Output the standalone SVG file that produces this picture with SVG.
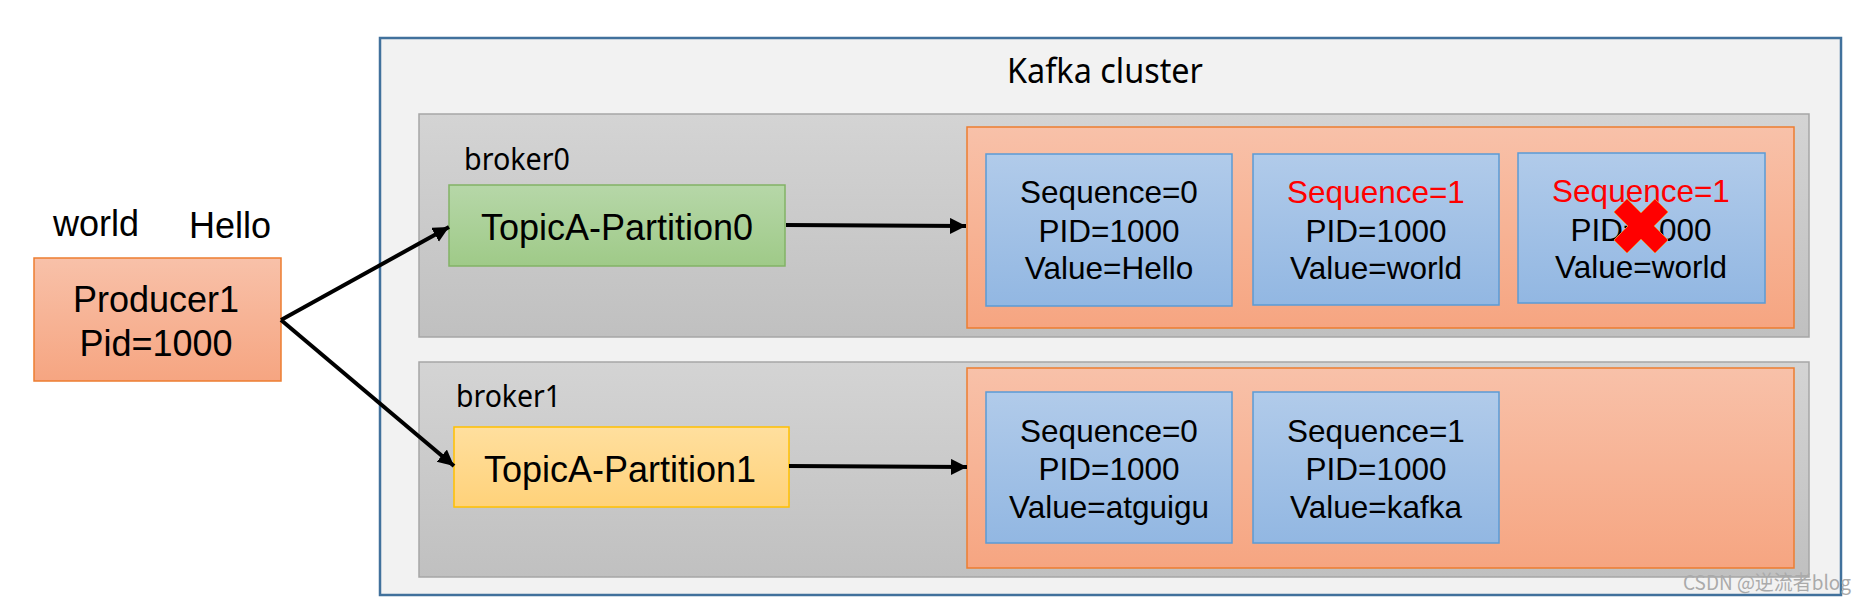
<svg xmlns="http://www.w3.org/2000/svg" width="1866" height="602" viewBox="0 0 1866 602">
<defs>
<linearGradient id="gOrange" x1="0" y1="0" x2="0" y2="1"><stop offset="0" stop-color="#f8c1a9"/><stop offset="1" stop-color="#f6a581"/></linearGradient>
<linearGradient id="gBlue" x1="0" y1="0" x2="0" y2="1"><stop offset="0" stop-color="#b1cbea"/><stop offset="1" stop-color="#92b7e2"/></linearGradient>
<linearGradient id="gGray" x1="0" y1="0" x2="0" y2="1"><stop offset="0" stop-color="#d4d4d4"/><stop offset="1" stop-color="#c0c0c0"/></linearGradient>
<linearGradient id="gGreen" x1="0" y1="0" x2="0" y2="1"><stop offset="0" stop-color="#b6d7a8"/><stop offset="1" stop-color="#9fca88"/></linearGradient>
<linearGradient id="gYellow" x1="0" y1="0" x2="0" y2="1"><stop offset="0" stop-color="#ffdf9e"/><stop offset="1" stop-color="#ffd27a"/></linearGradient>
<marker id="arr" markerUnits="userSpaceOnUse" markerWidth="17" markerHeight="17" refX="16" refY="8" orient="auto"><path d="M0,0 L16,8 L0,16 Z" fill="#000"/></marker>
<style>
.ar{font-family:"Liberation Sans",Arial,sans-serif;fill:#000}
.ya{font-family:"Noto Sans","DejaVu Sans",sans-serif;fill:#000}
.seq{font-family:"Liberation Sans",Arial,sans-serif;font-size:31.5px;text-anchor:middle;fill:#000}
.red{fill:#ff0000}
.blue{fill:url(#gBlue);stroke:#5b9bd5;stroke-width:1.5}
.orange{fill:url(#gOrange);stroke:#ed7d31;stroke-width:1.5}
.broker{fill:url(#gGray);stroke:#a6a6a6;stroke-width:1.5}
.conn{stroke:#000;stroke-width:4;fill:none;marker-end:url(#arr)}
</style>
</defs>
<rect width="1866" height="602" fill="#ffffff"/>

<g id="cluster">
<rect x="380" y="38" width="1461" height="557" fill="#f2f2f2" stroke="#41719c" stroke-width="2.5"/>
<text class="ya" x="1007" y="83" font-size="35" textLength="196" lengthAdjust="spacingAndGlyphs">Kafka cluster</text>
</g>

<g id="broker0">
<rect class="broker" x="419" y="114" width="1390" height="223"/>
<text class="ya" x="464" y="170" font-size="30" textLength="106" lengthAdjust="spacingAndGlyphs">broker0</text>
</g>

<g id="broker1">
<rect class="broker" x="419" y="362" width="1390" height="215"/>
<text class="ya" x="456" y="407" font-size="30" textLength="105" lengthAdjust="spacingAndGlyphs">broker1</text>
</g>

<g id="producer1">
<text class="ar" x="53" y="236" font-size="36">world</text>
<text class="ar" x="189" y="238" font-size="36">Hello</text>
<rect class="orange" x="34" y="258" width="247" height="123"/>
<text class="ar" x="156" y="312" font-size="36" text-anchor="middle">Producer1</text>
<text class="ar" x="156" y="356" font-size="36" text-anchor="middle">Pid=1000</text>
</g>

<g id="partition0">
<rect x="449" y="185" width="336" height="81" fill="url(#gGreen)" stroke="#82b366" stroke-width="1.5"/>
<text class="ar" x="617" y="240" font-size="36" text-anchor="middle">TopicA-Partition0</text>
</g>

<g id="partition1">
<rect x="454" y="427" width="335" height="80" fill="url(#gYellow)" stroke="#ffc000" stroke-width="1.5"/>
<text class="ar" x="620" y="482" font-size="36" text-anchor="middle">TopicA-Partition1</text>
</g>

<g id="log0">
<rect class="orange" x="967" y="127" width="827" height="201"/>
</g>

<g id="log1">
<rect class="orange" x="967" y="368" width="827" height="200"/>
</g>

<g id="msg0-0">
<rect class="blue" x="986" y="154" width="246" height="152"/>
<text class="seq" x="1109" y="203">Sequence=0</text>
<text class="seq" x="1109" y="242">PID=1000</text>
<text class="seq" x="1109" y="279">Value=Hello</text>
</g>

<g id="msg0-1">
<rect class="blue" x="1253" y="154" width="246" height="151"/>
<text class="seq red" x="1376" y="203">Sequence=1</text>
<text class="seq" x="1376" y="242">PID=1000</text>
<text class="seq" x="1376" y="279">Value=world</text>
</g>

<g id="msg0-2">
<rect class="blue" x="1518" y="153" width="247" height="150"/>
<text class="seq red" x="1641" y="202">Sequence=1</text>
<text class="seq" x="1641" y="241">PID=1000</text>
<text class="seq" x="1641" y="278">Value=world</text>
<polygon points="1614,212 1627,199 1641,213 1655,199 1668,212 1654,226 1668,240 1655,253 1641,239 1627,253 1614,240 1628,226" fill="#ff0000" stroke="#ed7d31" stroke-width="1"/>
</g>

<g id="msg1-0">
<rect class="blue" x="986" y="392" width="246" height="151"/>
<text class="seq" x="1109" y="442">Sequence=0</text>
<text class="seq" x="1109" y="480">PID=1000</text>
<text class="seq" x="1109" y="518">Value=atguigu</text>
</g>

<g id="msg1-1">
<rect class="blue" x="1253" y="392" width="246" height="151"/>
<text class="seq" x="1376" y="442">Sequence=1</text>
<text class="seq" x="1376" y="480">PID=1000</text>
<text class="seq" x="1376" y="518">Value=kafka</text>
</g>

<g id="connectors">
<line class="conn" x1="281" y1="320" x2="449" y2="227"/>
<line class="conn" x1="281" y1="320" x2="454" y2="466"/>
<line class="conn" x1="786" y1="225" x2="966" y2="226"/>
<line class="conn" x1="789" y1="466" x2="967" y2="467"/>
</g>

<text x="1683" y="590" font-family="'Noto Sans CJK SC','Noto Sans',sans-serif" font-size="20" fill="#aaaaaa" textLength="168" lengthAdjust="spacingAndGlyphs">CSDN @逆流者blog</text>
</svg>
